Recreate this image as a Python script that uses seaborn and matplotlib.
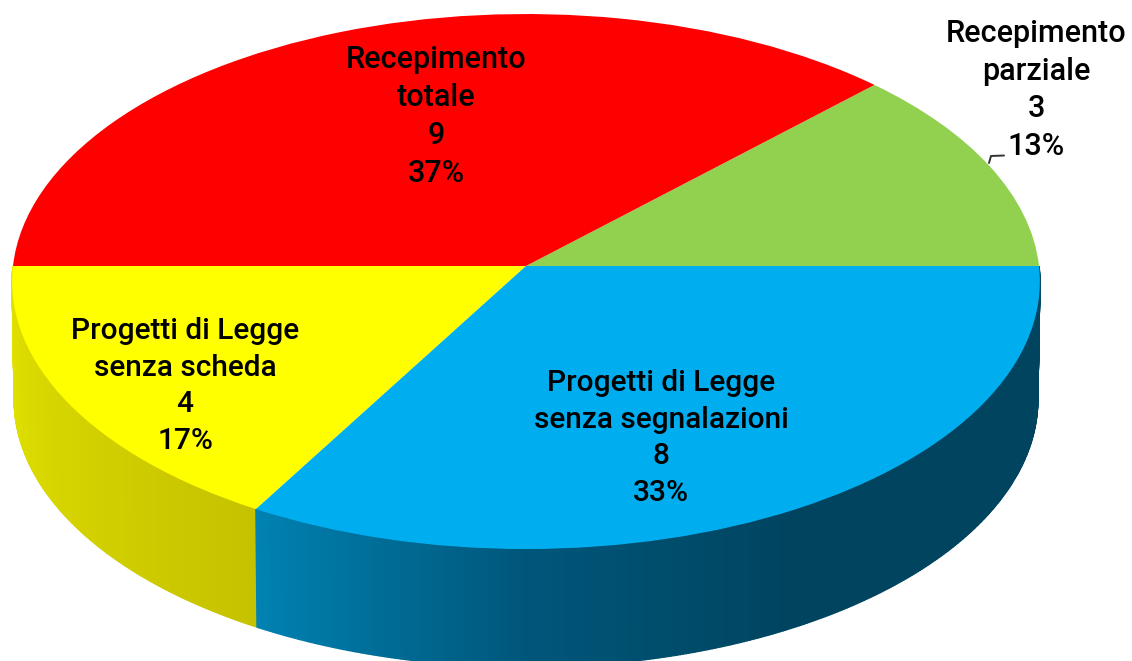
import numpy as np
import seaborn as sns
import matplotlib
matplotlib.use("Agg")
import matplotlib.pyplot as plt
from matplotlib.transforms import Transform

# data, order is counter clockwise starting from 3 o'clock
labels = ["Recepimento\nparziale", "Recepimento\ntotale", "Progetti di Legge\nsenza scheda", "Progetti di Legge\nsenza segnalazioni"]
values = [3, 9, 4, 8]
percents = ["13%", "37%", "17%", "33%"]
top_colors = ["#92d050", "#ff0000", "#ffff00", "#00aeef"]

W, H = 1132, 661
CX, CY, RX, RY = 526, 266, 513, 266.6   # top face in pixels
PERSP = 0.058   # far side of the disc is squeezed a bit
DEPTH = 118
SHRINK = 0.996


def project(u, v):
    d = 1 + PERSP * v
    return CX + RX * u / d, CY - RY * v / d


class Tilt(Transform):
    input_dims = 2
    output_dims = 2

    def transform_non_affine(self, values):
        values = np.asarray(values)
        x, y = project(values[:, 0], values[:, 1])
        return np.column_stack([x, y])


sns.set_theme(style="white")
plt.rcParams['font.family'] = ['Roboto', 'DejaVu Sans']

fig = plt.figure(figsize=(W / 100, H / 100), dpi=100)
ax = fig.add_axes([0, 0, 1, 1])

# side wall, only the front half shows
angles = np.cumsum([0] + values) / sum(values) * 360
yellow_wall = sns.blend_palette(["#e4e400", "#c6c200"], 181)
blue_wall = sns.blend_palette(["#0082b2", "#00567a", "#00445f", "#00445f", "#00445f"], 361)
walls = {2: yellow_wall, 3: blue_wall}
for i, pal in walls.items():
    ts = np.linspace(angles[i], angles[i + 1], len(pal) + 1)
    for j, c in enumerate(pal):
        t = np.radians(np.linspace(ts[j], ts[j + 1], 3))
        xtop, ytop = project(np.cos(t), np.sin(t))
        xbot = CX + (xtop - CX) * SHRINK
        ybot = ytop + DEPTH
        ax.fill(np.r_[xtop, xbot[::-1]], np.r_[ytop, ybot[::-1]], color=c, lw=1, zorder=1)

wedges, _ = ax.pie(values, colors=top_colors, startangle=0, counterclock=True, radius=1,
                   wedgeprops={"linewidth": 0, "zorder": 2})
tilt = Tilt()
for w in wedges:
    w.set_transform(tilt + ax.transData)
ax.set_aspect("auto")
ax.set_xlim(0, W)
ax.set_ylim(H, 0)

# label centres in pixels
label_pos = [(1036, 90), (436, 116.5), (185, 386), (661, 438)]
for i, (lab, v, p, (lx, ly)) in enumerate(zip(labels, values, percents, label_pos)):
    ax.text(lx, ly, "%s\n%d\n%s" % (lab, v, p), ha="center", va="center",
            fontsize=22 if i < 2 else 21.5, fontweight="medium", color="black",
            linespacing=1.38, zorder=5)

# small leader line for the green slice
ax.plot([989, 991, 1004], [163, 156, 155.5], color="#333333", lw=1.4, zorder=4)

fig.savefig("out.png", dpi=100)
